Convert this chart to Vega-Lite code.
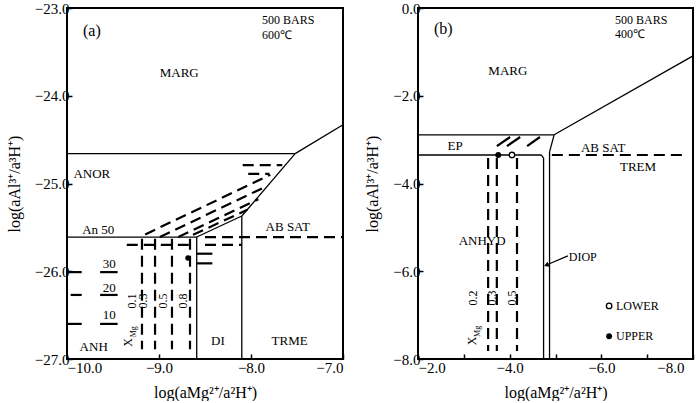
{
  "$schema": "https://vega.github.io/schema/vega-lite/v6.json",
  "background": "white",
  "padding": {"left": 5, "top": 0, "right": 0, "bottom": 0},
  "spacing": 75,
  "bounds": "flush",
  "config": {
    "font": "Liberation Serif",
    "view": {"stroke": "black", "strokeWidth": 2},
    "axis": {"grid": false, "domain": false, "labelFont": "Liberation Serif", "labelFontSize": 15, "labelColor": "black", "titleFont": "Liberation Serif", "titleFontSize": 16, "titleFontWeight": "normal", "titleColor": "black", "tickColor": "black", "tickSize": -5, "tickWidth": 1.5, "labelPadding": 3},
    "axisY": {"titlePadding": 12},
    "axisX": {"titlePadding": 9, "labelPadding": 6},
    "text": {"font": "Liberation Serif", "fontSize": 13, "color": "black", "baseline": "middle"}
  },
  "datasets": {
    "a_solid": [
      {"x": -10, "y": -24.66, "x2": -7.52, "y2": -24.66},
      {"x": -7.52, "y": -24.66, "x2": -7.0, "y2": -24.33},
      {"x": -7.52, "y": -24.66, "x2": -8.1, "y2": -25.37},
      {"x": -8.1, "y": -25.37, "x2": -8.59, "y2": -25.61},
      {"x": -10, "y": -25.61, "x2": -8.59, "y2": -25.61},
      {"x": -8.59, "y": -25.61, "x2": -8.59, "y2": -27},
      {"x": -8.1, "y": -25.37, "x2": -8.1, "y2": -27}
    ],
    "a_thick": [
      {"x": -8.59, "y": -25.8, "x2": -8.42, "y2": -25.8},
      {"x": -8.59, "y": -25.91, "x2": -8.42, "y2": -25.91},
      {"x": -10, "y": -26.01, "x2": -9.84, "y2": -26.01},
      {"x": -9.64, "y": -26.01, "x2": -9.45, "y2": -26.01},
      {"x": -9.96, "y": -26.27, "x2": -9.84, "y2": -26.27},
      {"x": -9.64, "y": -26.27, "x2": -9.45, "y2": -26.27},
      {"x": -10, "y": -26.6, "x2": -9.84, "y2": -26.6},
      {"x": -9.64, "y": -26.6, "x2": -9.45, "y2": -26.6}
    ],
    "a_dashed": [
      {"x": -8.5, "y": -25.61, "x2": -7.0, "y2": -25.61},
      {"x": -9.15, "y": -25.58, "x2": -7.79, "y2": -24.9},
      {"x": -8.99, "y": -25.61, "x2": -7.85, "y2": -25.04},
      {"x": -8.79, "y": -25.61, "x2": -7.92, "y2": -25.18},
      {"x": -8.63, "y": -25.585, "x2": -8.04, "y2": -25.3},
      {"x": -8.09, "y": -24.79, "x2": -7.66, "y2": -24.79},
      {"x": -8.03, "y": -24.89, "x2": -7.8, "y2": -24.89},
      {"x": -9.185, "y": -25.63, "x2": -9.185, "y2": -26.89},
      {"x": -9.043, "y": -25.63, "x2": -9.043, "y2": -26.89},
      {"x": -8.859, "y": -25.63, "x2": -8.859, "y2": -26.89},
      {"x": -8.663, "y": -25.63, "x2": -8.663, "y2": -26.89},
      {"x": -9.35, "y": -25.7, "x2": -8.66, "y2": -25.7},
      {"x": -8.5, "y": -25.7, "x2": -8.1, "y2": -25.7}
    ],
    "a_dot": [{"x": -8.685, "y": -25.85}],
    "a_text": [
      {"x": -8.78, "y": -23.74, "label": "MARG"},
      {"x": -9.73, "y": -24.89, "label": "ANOR"},
      {"x": -9.66, "y": -25.53, "label": "An 50"},
      {"x": -7.6, "y": -25.5, "label": "AB SAT"},
      {"x": -9.54, "y": -25.92, "label": "30"},
      {"x": -9.54, "y": -26.19, "label": "20"},
      {"x": -9.54, "y": -26.5, "label": "10"},
      {"x": -9.71, "y": -26.86, "label": "ANH"},
      {"x": -8.36, "y": -26.79, "label": "DI"},
      {"x": -7.58, "y": -26.79, "label": "TRME"}
    ],
    "a_left": [
      {"x": -7.88, "y": -23.14, "label": "500 BARS"},
      {"x": -7.88, "y": -23.31, "label": "600℃"}
    ],
    "a_tag": [{"x": -9.73, "y": -23.26, "label": "(a)"}],
    "a_rot": [
      {"x": -9.29, "y": -26.34, "label": "0.1"},
      {"x": -9.17, "y": -26.34, "label": "0.3"},
      {"x": -8.96, "y": -26.34, "label": "0.5"},
      {"x": -8.74, "y": -26.34, "label": "0.8"},
      {"x": -9.337, "y": -26.81, "label": "X"}
    ],
    "a_sub": [{"x": -9.27, "y": -26.69, "label": "Mg"}],
    "b_solid": [
      {"x": -2, "y": -2.89, "x2": -4.97, "y2": -2.89},
      {"x": -4.97, "y": -2.89, "x2": -8, "y2": -1.09},
      {"x": -4.97, "y": -2.89, "x2": -4.87, "y2": -3.28},
      {"x": -4.87, "y": -3.28, "x2": -4.87, "y2": -8},
      {"x": -2, "y": -3.35, "x2": -4.69, "y2": -3.35},
      {"x": -4.69, "y": -3.35, "x2": -4.74, "y2": -3.42},
      {"x": -4.74, "y": -3.42, "x2": -4.74, "y2": -8},
      {"x": -5.27, "y": -5.65, "x2": -4.84, "y2": -5.84}
    ],
    "b_thick": [
      {"x": -3.72, "y": -3.15, "x2": -4.01, "y2": -2.94},
      {"x": -3.94, "y": -3.15, "x2": -4.23, "y2": -2.94},
      {"x": -4.38, "y": -3.15, "x2": -4.66, "y2": -2.94}
    ],
    "b_dashed": [
      {"x": -4.92, "y": -3.35, "x2": -7.78, "y2": -3.35},
      {"x": -3.53, "y": -3.42, "x2": -3.53, "y2": -7.82},
      {"x": -3.72, "y": -3.42, "x2": -3.72, "y2": -7.82},
      {"x": -4.16, "y": -3.42, "x2": -4.16, "y2": -7.82}
    ],
    "b_upper": [{"x": -3.75, "y": -3.35}, {"x": -6.17, "y": -7.48}],
    "b_lower": [{"x": -4.05, "y": -3.35}, {"x": -6.17, "y": -6.79}],
    "b_arrow": [{"x": -4.8, "y": -5.86}],
    "b_text": [
      {"x": -3.96, "y": -1.44, "label": "MARG"},
      {"x": -2.81, "y": -3.15, "label": "EP"},
      {"x": -6.04, "y": -3.19, "label": "AB SAT"},
      {"x": -6.8, "y": -3.62, "label": "TREM"},
      {"x": -3.4, "y": -5.31, "label": "ANHYD"}
    ],
    "b_left": [
      {"x": -6.3, "y": -0.28, "label": "500  BARS"},
      {"x": -6.3, "y": -0.59, "label": "400℃"},
      {"x": -5.29, "y": -5.68, "label": "DIOP"},
      {"x": -6.32, "y": -6.79, "label": "LOWER"},
      {"x": -6.32, "y": -7.48, "label": "UPPER"}
    ],
    "b_tag": [{"x": -2.55, "y": -0.48, "label": "(b)"}],
    "b_rot": [
      {"x": -3.2, "y": -6.61, "label": "0.2"},
      {"x": -3.61, "y": -6.61, "label": "0.3"},
      {"x": -4.05, "y": -6.61, "label": "0.5"},
      {"x": -3.18, "y": -7.59, "label": "X"}
    ],
    "b_sub": [{"x": -3.31, "y": -7.37, "label": "Mg"}]
  },
  "hconcat": [
    {
      "width": 276,
      "height": 351,
      "encoding": {
        "x": {"field": "x", "type": "quantitative", "scale": {"domain": [-10, -7], "nice": false, "zero": false}, "axis": {"values": [-10, -9, -8, -7], "format": ".1f", "title": "log(aMg²⁺/a²H⁺)"}},
        "y": {"field": "y", "type": "quantitative", "scale": {"domain": [-27, -23], "nice": false, "zero": false}, "axis": {"values": [-27, -26, -25, -24, -23], "format": ".1f", "title": "log(aAl³⁺/a³H⁺)"}}
      },
      "layer": [
        {"data": {"name": "a_solid"}, "mark": {"type": "rule", "color": "black", "strokeWidth": 1.3}, "encoding": {"x2": {"field": "x2"}, "y2": {"field": "y2"}}},
        {"data": {"name": "a_thick"}, "mark": {"type": "rule", "color": "black", "strokeWidth": 2.2}, "encoding": {"x2": {"field": "x2"}, "y2": {"field": "y2"}}},
        {"data": {"name": "a_dashed"}, "mark": {"type": "rule", "color": "black", "strokeWidth": 2.2, "strokeDash": [11, 6]}, "encoding": {"x2": {"field": "x2"}, "y2": {"field": "y2"}}},
        {"data": {"name": "a_dot"}, "mark": {"type": "point", "filled": true, "color": "black", "size": 30, "opacity": 1}},
        {"data": {"name": "a_text"}, "mark": {"type": "text"}, "encoding": {"text": {"field": "label"}}},
        {"data": {"name": "a_left"}, "mark": {"type": "text", "align": "left", "fontSize": 12}, "encoding": {"text": {"field": "label"}}},
        {"data": {"name": "a_tag"}, "mark": {"type": "text", "fontSize": 16}, "encoding": {"text": {"field": "label"}}},
        {"data": {"name": "a_rot"}, "mark": {"type": "text", "angle": 270, "fontSize": 12}, "encoding": {"text": {"field": "label"}}},
        {"data": {"name": "a_sub"}, "mark": {"type": "text", "angle": 270, "fontSize": 8}, "encoding": {"text": {"field": "label"}}}
      ]
    },
    {
      "width": 275,
      "height": 351,
      "encoding": {
        "x": {"field": "x", "type": "quantitative", "scale": {"domain": [-8, -2], "reverse": true, "nice": false, "zero": false}, "axis": {"values": [-2, -3, -4, -5, -6, -7, -8], "labelExpr": "datum.value % 2 == 0 ? format(datum.value, '.1f') : ''", "labelOffset": {"condition": {"test": "datum.value == -8", "value": -9}, "value": 0}, "title": "log(aMg²⁺/a²H⁺)"}},
        "y": {"field": "y", "type": "quantitative", "scale": {"domain": [-8, 0], "nice": false, "zero": false}, "axis": {"values": [-8, -6, -4, -2, 0], "format": ".1f", "title": "log(aAl³⁺/a³H⁺)"}}
      },
      "layer": [
        {"data": {"name": "b_solid"}, "mark": {"type": "rule", "color": "black", "strokeWidth": 1.3}, "encoding": {"x2": {"field": "x2"}, "y2": {"field": "y2"}}},
        {"data": {"name": "b_thick"}, "mark": {"type": "rule", "color": "black", "strokeWidth": 2.2}, "encoding": {"x2": {"field": "x2"}, "y2": {"field": "y2"}}},
        {"data": {"name": "b_dashed"}, "mark": {"type": "rule", "color": "black", "strokeWidth": 2.2, "strokeDash": [11, 6]}, "encoding": {"x2": {"field": "x2"}, "y2": {"field": "y2"}}},
        {"data": {"name": "b_upper"}, "mark": {"type": "point", "filled": true, "color": "black", "size": 35, "opacity": 1}},
        {"data": {"name": "b_lower"}, "mark": {"type": "point", "filled": false, "fill": "white", "stroke": "black", "strokeWidth": 1.3, "size": 30, "opacity": 1}},
        {"data": {"name": "b_arrow"}, "mark": {"type": "point", "shape": "triangle-up", "filled": true, "color": "black", "size": 30, "angle": 246, "opacity": 1}},
        {"data": {"name": "b_text"}, "mark": {"type": "text"}, "encoding": {"text": {"field": "label"}}},
        {"data": {"name": "b_left"}, "mark": {"type": "text", "align": "left", "fontSize": 12}, "encoding": {"text": {"field": "label"}}},
        {"data": {"name": "b_tag"}, "mark": {"type": "text", "fontSize": 16}, "encoding": {"text": {"field": "label"}}},
        {"data": {"name": "b_rot"}, "mark": {"type": "text", "angle": 270, "fontSize": 12}, "encoding": {"text": {"field": "label"}}},
        {"data": {"name": "b_sub"}, "mark": {"type": "text", "angle": 270, "fontSize": 8}, "encoding": {"text": {"field": "label"}}}
      ]
    }
  ]
}
